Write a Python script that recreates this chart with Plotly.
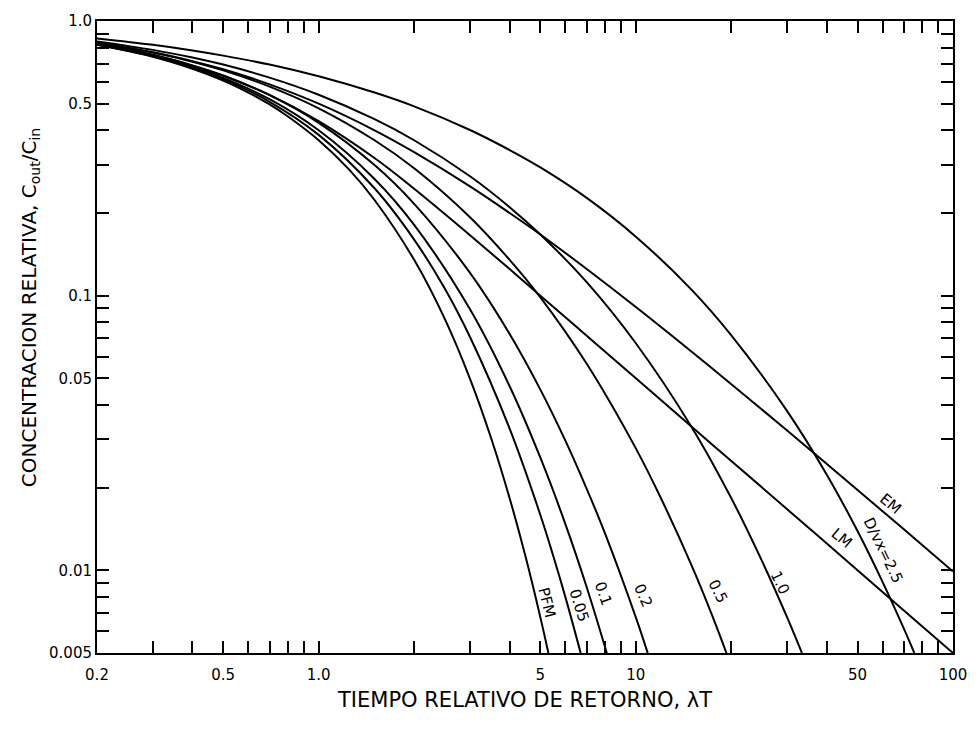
import math
import plotly.graph_objects as go

# Relative return time (lambda*T) and relative concentration C_out/C_in for each model curve
pfm_t = [0.2, 0.3, 0.4, 0.5, 0.6, 0.7, 0.8, 1.0, 1.25, 1.5, 2.0, 2.5, 3.0, 3.5, 4.0, 4.5, 5.0, 5.3]
pfm_c = [0.819, 0.741, 0.670, 0.607, 0.549, 0.497, 0.449, 0.368, 0.287, 0.223, 0.135, 0.0821,
         0.0498, 0.0302, 0.0183, 0.0111, 0.00674, 0.0050]

d005_t = [0.2, 0.3, 0.4, 0.5, 0.7, 1.0, 1.5, 2.0, 2.5, 3.0, 4.0, 5.0, 5.5, 6.0, 6.7]
d005_c = [0.820, 0.744, 0.676, 0.614, 0.508, 0.385, 0.246, 0.160, 0.106, 0.0707, 0.0328,
          0.0159, 0.0112, 0.00797, 0.0050]

d01_t = [0.2, 0.3, 0.4, 0.5, 0.7, 1.0, 1.5, 2.0, 3.0, 4.0, 5.0, 6.0, 7.0, 8.1]
d01_c = [0.822, 0.747, 0.680, 0.621, 0.519, 0.400, 0.266, 0.181, 0.0892, 0.0468, 0.0257,
         0.0147, 0.00868, 0.0050]

d02_t = [0.2, 0.3, 0.4, 0.5, 0.7, 1.0, 1.5, 2.0, 3.0, 4.0, 5.0, 6.0, 7.0, 8.0, 10.0, 10.9]
d02_c = [0.825, 0.753, 0.689, 0.633, 0.537, 0.426, 0.299, 0.216, 0.121, 0.0725, 0.0455,
         0.0296, 0.0198, 0.0136, 0.00674, 0.0050]

d05_t = [0.2, 0.3, 0.4, 0.5, 0.7, 1.0, 1.5, 2.0, 3.0, 4.0, 5.0, 7.0, 10.0, 12.0, 15.0, 17.5, 19.3]
d05_c = [0.833, 0.767, 0.711, 0.661, 0.577, 0.481, 0.368, 0.291, 0.193, 0.135, 0.0986,
         0.0565, 0.0278, 0.0183, 0.0104, 0.00674, 0.0050]

d10_t = [0.2, 0.3, 0.4, 0.5, 0.7, 1.0, 1.5, 2.0, 3.0, 4.0, 5.0, 7.0, 10.0, 15.0, 20.0, 25.0, 30.0, 33.4]
d10_c = [0.843, 0.785, 0.736, 0.694, 0.622, 0.539, 0.439, 0.368, 0.272, 0.210, 0.167, 0.112,
         0.0671, 0.0332, 0.0183, 0.0108, 0.00674, 0.0050]

d25_t = [0.2, 0.3, 0.4, 0.5, 0.7, 1.0, 1.5, 2.0, 3.0, 4.0, 5.0, 7.0, 10.0, 15.0, 20.0, 30.0,
         40.0, 50.0, 60.0, 70.0, 75.5]
d25_c = [0.864, 0.819, 0.781, 0.748, 0.694, 0.629, 0.549, 0.489, 0.401, 0.339, 0.293, 0.227,
         0.164, 0.105, 0.0717, 0.0380, 0.0223, 0.0139, 0.00906, 0.00613, 0.0050]

em_t = [0.2, 0.3, 0.4, 0.5, 0.7, 1.0, 1.5, 2.0, 3.0, 4.0, 5.0, 7.0, 10.0, 15.0, 20.0, 30.0, 50.0, 70.0, 100.0]
em_c = [0.833, 0.769, 0.714, 0.667, 0.588, 0.500, 0.400, 0.333, 0.250, 0.200, 0.167, 0.125,
        0.0909, 0.0625, 0.0476, 0.0323, 0.0196, 0.0141, 0.0099]

lm_t = [0.2, 0.3, 0.4, 0.5, 0.7, 1.0, 1.5, 2.0, 3.0, 4.0, 5.0, 7.0, 10.0, 15.0, 20.0, 30.0, 50.0, 70.0, 100.0]
lm_c = [0.824, 0.752, 0.688, 0.632, 0.538, 0.432, 0.317, 0.245, 0.166, 0.125, 0.100, 0.0714,
        0.0500, 0.0333, 0.0250, 0.0167, 0.0100, 0.00714, 0.0050]

series = [
    (pfm_t, pfm_c), (d005_t, d005_c), (d01_t, d01_c), (d02_t, d02_c), (d05_t, d05_c),
    (d10_t, d10_c), (d25_t, d25_c), (em_t, em_c), (lm_t, lm_c),
]

# Curve labels: text, position (lambda*T, C_out/C_in), rotation
curve_labels = [
    ("PFM", 5.24, 0.0076, 76),
    ("0.05", 6.60, 0.00745, 72),
    ("0.1", 7.90, 0.0082, 70),
    ("0.2", 10.5, 0.0081, 66),
    ("0.5", 18.1, 0.0084, 63),
    ("1.0", 28.5, 0.0090, 64),
    ("D/vx=2.5", 60.5, 0.0118, 64),
    ("EM", 63.5, 0.0174, 40),
    ("LM", 44.5, 0.0131, 40),
]

x_major = [0.2, 0.5, 1, 5, 10, 50, 100]
x_major_text = ["0.2", "0.5", "1.0", "5", "10", "50", "100"]
x_minor = [0.3, 0.4, 0.6, 0.7, 0.8, 0.9, 2, 3, 4, 6, 7, 8, 9, 20, 30, 40, 60, 70, 80, 90]
y_major = [0.005, 0.01, 0.05, 0.1, 0.5, 1.0]
y_major_text = ["0.005", "0.01", "0.05", "0.1", "0.5", "1.0"]
y_minor = [0.006, 0.007, 0.008, 0.009, 0.02, 0.03, 0.04, 0.06, 0.07, 0.08, 0.09,
           0.2, 0.3, 0.4, 0.6, 0.7, 0.8, 0.9]

FONT = "DejaVu Sans"

fig = go.Figure()
for t, c in series:
    fig.add_trace(go.Scatter(
        x=t, y=c, mode="lines",
        line=dict(color="black", width=2, shape="spline", smoothing=1.0),
        hoverinfo="skip", showlegend=False,
    ))

annotations = []
for text, x, y, ang in curve_labels:
    annotations.append(dict(
        x=math.log10(x), y=math.log10(y), xref="x", yref="y", text=text,
        showarrow=False, textangle=ang,
        font=dict(family=FONT, size=15, color="black"),
    ))

annotations.append(dict(
    x=-0.078, y=0.546, xref="paper", yref="paper", textangle=-90,
    text="CONCENTRACION RELATIVA, C<sub>out</sub>/C<sub>in</sub>",
    showarrow=False, xanchor="center", yanchor="middle",
    font=dict(family=FONT, size=20, color="black"),
))
annotations.append(dict(
    x=0.499, y=-0.074, xref="paper", yref="paper",
    text="TIEMPO RELATIVO DE RETORNO, λT",
    showarrow=False, xanchor="center", yanchor="middle",
    font=dict(family=FONT, size=21, color="black"),
))

axis_common = dict(
    type="log", showgrid=False, zeroline=False,
    showline=True, linecolor="black", linewidth=2, mirror="ticks",
    ticks="inside", ticklen=12, tickwidth=1.5, tickcolor="black",
    tickfont=dict(family=FONT, size=15, color="black"),
)
minor_common = dict(ticks="inside", ticklen=12, tickwidth=1.5, tickcolor="black", showgrid=False)

fig.update_xaxes(
    range=[math.log10(0.2), math.log10(100)],
    tickvals=x_major, ticktext=x_major_text,
    minor=dict(tickvals=x_minor, **minor_common),
    ticklabelstandoff=7,
    **axis_common,
)
fig.update_yaxes(
    range=[math.log10(0.005), 0],
    tickvals=y_major, ticktext=y_major_text,
    minor=dict(tickvals=y_minor, **minor_common),
    **axis_common,
)

fig.update_layout(
    width=979, height=729,
    margin=dict(l=97, r=20, t=15, b=76),
    paper_bgcolor="white", plot_bgcolor="white",
    annotations=annotations,
)

fig.write_html("out.html")
